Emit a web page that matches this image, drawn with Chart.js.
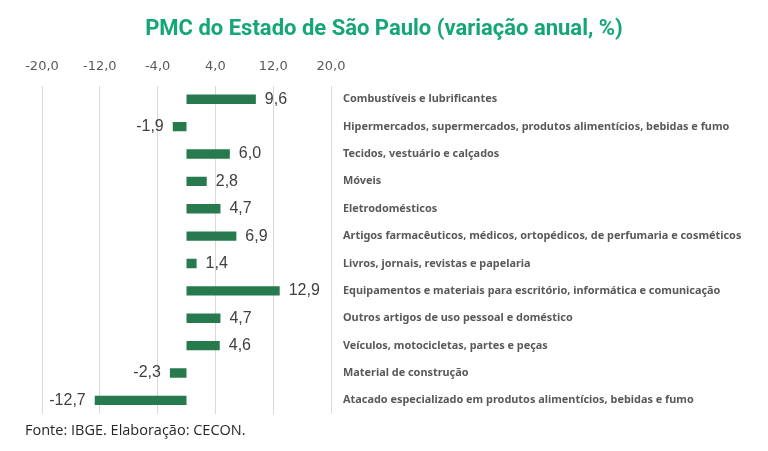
<!DOCTYPE html>
<html>
<head>
<meta charset="utf-8">
<script src="https://cdn.jsdelivr.net/npm/chart.js@4"></script>
<style>
  html, body { margin: 0; padding: 0; background: #fff; }
  #wrap { width: 768px; height: 451px; }
</style>
</head>
<body>
<div id="wrap"><canvas id="pmcChart"></canvas></div>
<script>
const categories = [
    'Combustíveis e lubrificantes',
    'Hipermercados, supermercados, produtos alimentícios, bebidas e fumo',
    'Tecidos, vestuário e calçados',
    'Móveis',
    'Eletrodomésticos',
    'Artigos farmacêuticos, médicos, ortopédicos, de perfumaria e cosméticos',
    'Livros, jornais, revistas e papelaria',
    'Equipamentos e materiais para escritório, informática e comunicação',
    'Outros artigos de uso pessoal e doméstico',
    'Veículos, motocicletas, partes e peças',
    'Material de construção',
    'Atacado especializado em produtos alimentícios, bebidas e fumo'
];
const variacao = [9.6, -1.9, 6.0, 2.8, 4.7, 6.9, 1.4, 12.9, 4.7, 4.6, -2.3, -12.7];
const xTicks = [-20, -12, -4, 4, 12, 20];
const titulo = 'PMC do Estado de São Paulo (variação anual, %)';
const fonte = 'Fonte: IBGE. Elaboração: CECON.';

const fmt = v => v.toFixed(1).replace('.', ',');

// title, value labels next to each bar and source line
const barLabels = {
    id: 'barLabels',
    afterDatasetsDraw(chart) {
        const ctx = chart.ctx;
        const meta = chart.getDatasetMeta(0);
        ctx.save();
        ctx.font = '16px "Liberation Sans", Arial, sans-serif';
        ctx.fillStyle = '#404040';
        ctx.textBaseline = 'middle';
        meta.data.forEach((bar, i) => {
            const v = variacao[i];
            if (v >= 0) {
                ctx.textAlign = 'left';
                ctx.fillText(fmt(v), bar.x + 9, bar.y);
            } else {
                ctx.textAlign = 'right';
                ctx.fillText(fmt(v), bar.x - 9, bar.y);
            }
        });
        ctx.font = 'bold 22px Roboto, sans-serif';
        ctx.fillStyle = '#14a674';
        ctx.textAlign = 'center';
        ctx.fillText(titulo, chart.width / 2, 29);

        ctx.font = '14.5px "Open Sans", sans-serif';
        ctx.fillStyle = '#262626';
        ctx.textAlign = 'left';
        ctx.fillText(fonte, 25, 431);
        ctx.restore();
    }
};

const ctx = document.getElementById('pmcChart').getContext('2d');
let pmcChart = new Chart(ctx, {
    type: 'bar',
    data: {
        labels: categories,
        datasets: [{
            data: variacao,
            backgroundColor: '#277a4e',
            barPercentage: 0.9,
            categoryPercentage: 0.38
        }]
    },
    options: {
        indexAxis: 'y',
        responsive: true,
        maintainAspectRatio: false,
        animation: false,
        layout: { padding: { left: 42, right: 0, top: 48, bottom: 37 } },
        plugins: {
            legend: { display: false },
            tooltip: { enabled: false }
        },
        scales: {
            x: {
                position: 'top',
                min: -20,
                max: 20,
                afterBuildTicks: scale => {
                    scale.ticks = xTicks.map(v => ({ value: v }));
                },
                grid: { color: '#d9d9d9', drawTicks: false },
                border: { display: false },
                ticks: {
                    color: '#595959',
                    padding: 11,
                    font: { family: 'DejaVu Sans', size: 13 },
                    callback: v => fmt(v)
                }
            },
            y: {
                position: 'right',
                afterFit: scale => { scale.width = 437; },
                grid: { display: false, drawTicks: false },
                border: { display: false },
                ticks: {
                    color: '#595959',
                    padding: 12,
                    autoSkip: false,
                    font: { family: 'Noto Sans', size: 10.9, weight: 'bold' }
                }
            }
        }
    },
    plugins: [barLabels]
});
</script>
</body>
</html>
